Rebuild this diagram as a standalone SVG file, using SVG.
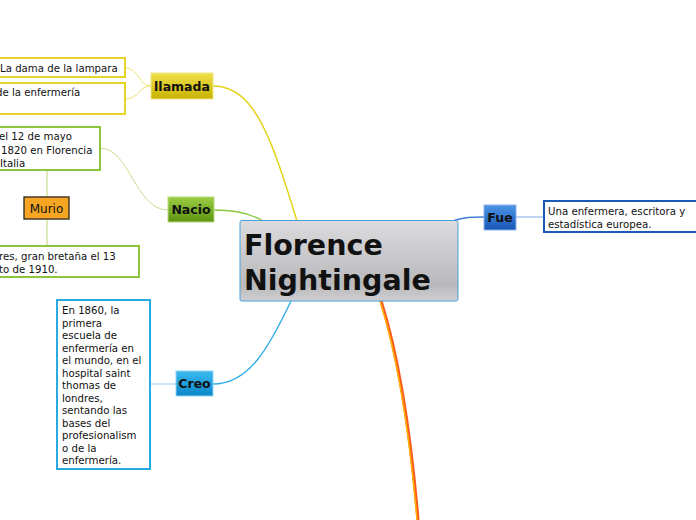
<svg xmlns="http://www.w3.org/2000/svg" width="696" height="520" viewBox="0 0 696 520">
<defs>
<linearGradient id="gC" x1="0" y1="0" x2="0" y2="1"><stop offset="0" stop-color="#dcdcde"/><stop offset="0.8" stop-color="#b9b9bc"/><stop offset="1" stop-color="#cfcfd1"/></linearGradient>
<linearGradient id="gY" x1="0" y1="0" x2="0" y2="1"><stop offset="0" stop-color="#efe04a"/><stop offset="1" stop-color="#c9b200"/></linearGradient>
<linearGradient id="gG" x1="0" y1="0" x2="0" y2="1"><stop offset="0" stop-color="#9ccc44"/><stop offset="1" stop-color="#5c9410"/></linearGradient>
<linearGradient id="gB" x1="0" y1="0" x2="0" y2="1"><stop offset="0" stop-color="#4c94e6"/><stop offset="1" stop-color="#1656b4"/></linearGradient>
<linearGradient id="gS" x1="0" y1="0" x2="0" y2="1"><stop offset="0" stop-color="#3cbaf0"/><stop offset="1" stop-color="#0a86c8"/></linearGradient>
</defs>
<style>
text{font-family:"DejaVu Sans",Verdana,sans-serif;fill:#111}
.lf{font-size:10.2px}
.nd{font-size:12.5px;font-weight:bold;text-anchor:middle}
.leaf{fill:#fff;stroke-width:2}
.c{fill:none}
</style>
<rect width="696" height="520" fill="#fff"/>
<g id="connectors">
<path class="c" d="M213,86 C255,86 272,140 297,221" stroke="#e6d31e" stroke-width="1.5"/>
<path class="c" d="M125,68 C140,68 138,86 151,86" stroke="#ece27a" stroke-width="1"/>
<path class="c" d="M125,99 C140,99 138,86 151,86" stroke="#ece27a" stroke-width="1"/>
<path class="c" d="M214,210 C235,210 250,213 263,221" stroke="#8cc43c" stroke-width="1.3"/>
<path class="c" d="M100,148 C130,148 135,210 168,210" stroke="#c6df8a" stroke-width="1"/>
<path class="c" d="M47,170 V197 M47,219 V246" stroke="#c6df8a" stroke-width="1.2"/>
<path class="c" d="M452,221 C466,217 470,217 484,217" stroke="#3a7bd5" stroke-width="1.3"/>
<path class="c" d="M516,217 H544" stroke="#7aaae6" stroke-width="1"/>
<path class="c" d="M291,301 C270,345 250,384 213,384" stroke="#2aaae8" stroke-width="1.3"/>
<path class="c" d="M150,384 H176" stroke="#8fd3f2" stroke-width="1"/>
<path class="c" d="M381,301 Q406,380 418,520" stroke="#ff5a1e" stroke-width="3.2"/>
<path class="c" d="M380,301 Q405,380 417,520" stroke="#ffb400" stroke-width="1.4"/>
</g>
<g id="center">
<rect x="240" y="220.5" width="218" height="80.5" rx="2" fill="url(#gC)" stroke="#4aa0dc" stroke-width="1"/>
<text x="244" y="255" font-size="28.5" font-weight="bold">Florence</text>
<text x="244" y="290" font-size="28.5" font-weight="bold">Nightingale</text>
</g>
<g id="llamada">
<rect x="151" y="73" width="62" height="26" fill="url(#gY)" stroke="#eee58a" stroke-width="1"/>
<text class="nd" x="182" y="91">llamada</text>
</g>
<g id="leaf-dama">
<rect class="leaf" x="-10" y="58" width="135" height="19" stroke="#e8d52a"/>
<text class="lf" x="0" y="72">La dama de la lampara</text>
</g>
<g id="leaf-enfermeria">
<rect class="leaf" x="-10" y="83" width="135" height="31" stroke="#e8d52a"/>
<text class="lf" x="-4" y="96">de la enfermería</text>
</g>
<g id="nacio">
<rect x="168" y="197" width="46" height="25" fill="url(#gG)" stroke="#b6db7e" stroke-width="1"/>
<text class="nd" x="191" y="214">Nacio</text>
</g>
<g id="leaf-nacio">
<rect class="leaf" x="-10" y="127" width="110" height="43" stroke="#8cc43c"/>
<text class="lf" x="-1" y="140">el 12 de mayo</text>
<text class="lf" x="1" y="154">1820 en Florencia</text>
<text class="lf" x="0" y="167">Italia</text>
</g>
<g id="murio">
<rect x="24" y="197" width="45" height="22" fill="#f6a623" stroke="#3a3020" stroke-width="1.4"/>
<text x="46.5" y="213" font-size="12" text-anchor="middle">Murio</text>
</g>
<g id="leaf-murio">
<rect class="leaf" x="-10" y="246" width="149" height="31" stroke="#8cc43c"/>
<text class="lf" x="-1" y="260">res, gran bretaña el 13</text>
<text class="lf" x="-1" y="273">to de 1910.</text>
</g>
<g id="fue">
<rect x="484" y="205" width="32" height="25" fill="url(#gB)" stroke="#8ab6ee" stroke-width="1"/>
<text class="nd" x="500" y="222">Fue</text>
</g>
<g id="leaf-fue">
<rect class="leaf" x="544" y="201" width="160" height="31" stroke="#1a5bb8"/>
<text class="lf" x="548" y="215">Una enfermera, escritora y</text>
<text class="lf" x="548" y="228">estadística europea.</text>
</g>
<g id="creo">
<rect x="176" y="371" width="37" height="25" fill="url(#gS)" stroke="#8fd3f2" stroke-width="1"/>
<text class="nd" x="194.5" y="388">Creo</text>
</g>
<g id="leaf-creo">
<rect class="leaf" x="57" y="300" width="93" height="169" stroke="#29abe2"/>
<text class="lf" x="62" y="314">En 1860, la</text>
<text class="lf" x="62" y="326.5">primera</text>
<text class="lf" x="62" y="339">escuela de</text>
<text class="lf" x="62" y="351.5">enfermería en</text>
<text class="lf" x="62" y="364">el mundo, en el</text>
<text class="lf" x="62" y="376.5">hospital saint</text>
<text class="lf" x="62" y="389">thomas de</text>
<text class="lf" x="62" y="401.5">londres,</text>
<text class="lf" x="62" y="414">sentando las</text>
<text class="lf" x="62" y="426.5">bases del</text>
<text class="lf" x="62" y="439">profesionalism</text>
<text class="lf" x="62" y="451.5">o de la</text>
<text class="lf" x="62" y="464">enfermería.</text>
</g>
</svg>
